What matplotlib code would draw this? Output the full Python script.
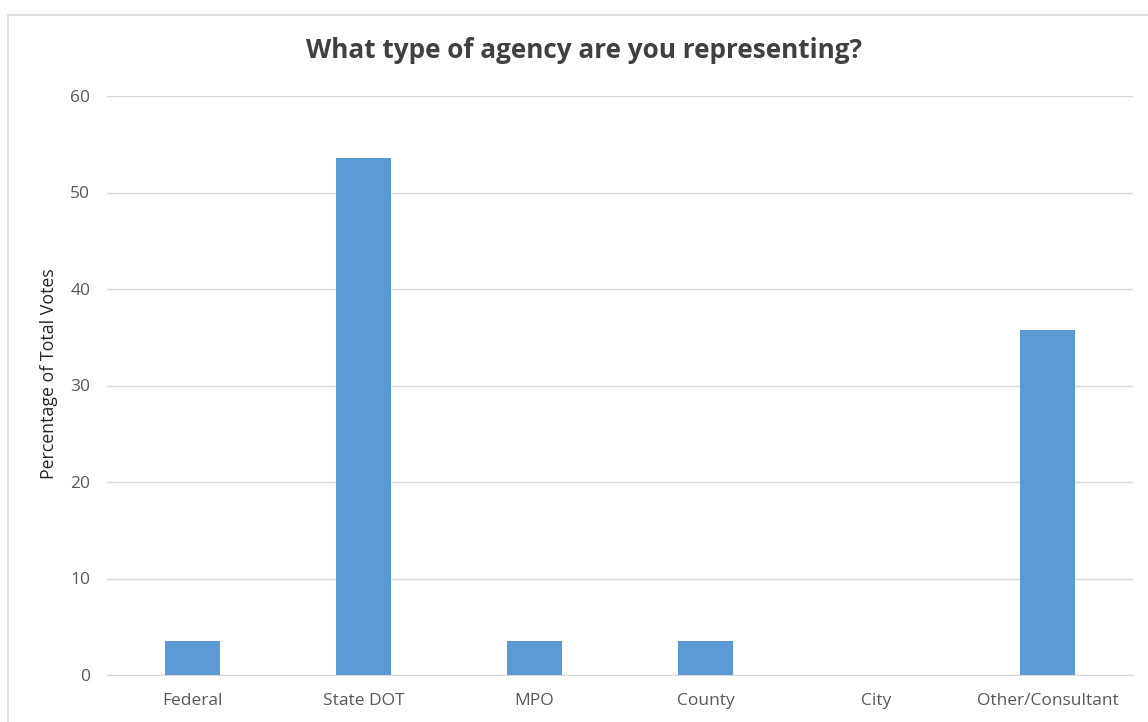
import matplotlib.pyplot as plt
from matplotlib.patches import Rectangle

categories = ["Federal", "State DOT", "MPO", "County", "City", "Other/Consultant"]
percent = [3.57, 53.57, 3.57, 3.57, 0.0, 35.71]
yticks = [0, 10, 20, 30, 40, 50, 60]

plt.rcParams['font.family'] = ['Open Sans', 'DejaVu Sans']

fig = plt.figure(figsize=(11.48, 7.22), dpi=100)
ax = fig.add_axes([107/1148, 1 - 675/722, (1133 - 107)/1148, (675 - 96)/722])

# outer chart border (bottom and right run off the image)
fig.patches.append(Rectangle((8/1148, -0.1), 1.2, 1 - 15/722 + 0.1,
                             transform=fig.transFigure, fill=False,
                             edgecolor="#d9d9d9", linewidth=1.2))

x = range(len(categories))
ax.bar(x, percent, width=0.316, color="#5b9bd5", zorder=3)

ax.set_xlim(-0.5, len(categories) - 0.5)
ax.set_ylim(0, 60)
ax.set_yticks(yticks)
ax.set_xticks(list(x))
ax.set_xticklabels(categories)
ax.grid(axis="y", color="#d9d9d9", linewidth=1, zorder=0)
for s in ["top", "right", "left"]:
    ax.spines[s].set_visible(False)
ax.spines["bottom"].set_color("#d9d9d9")
ax.tick_params(length=0, labelsize=12.5, labelcolor="#595959")
ax.tick_params(axis="y", pad=12)
ax.tick_params(axis="x", pad=13)

ax.set_ylabel("Percentage of Total Votes", fontsize=12.8, color="#262626")
ax.yaxis.set_label_coords(-49/1026, (675 - 374) / 579)
fig.text(584/1148, 1 - 50/722, "What type of agency are you representing?",
         ha="center", va="center", fontsize=18.8, fontweight="bold", color="#404040")

fig.savefig("out.png", dpi=100, facecolor="white")
